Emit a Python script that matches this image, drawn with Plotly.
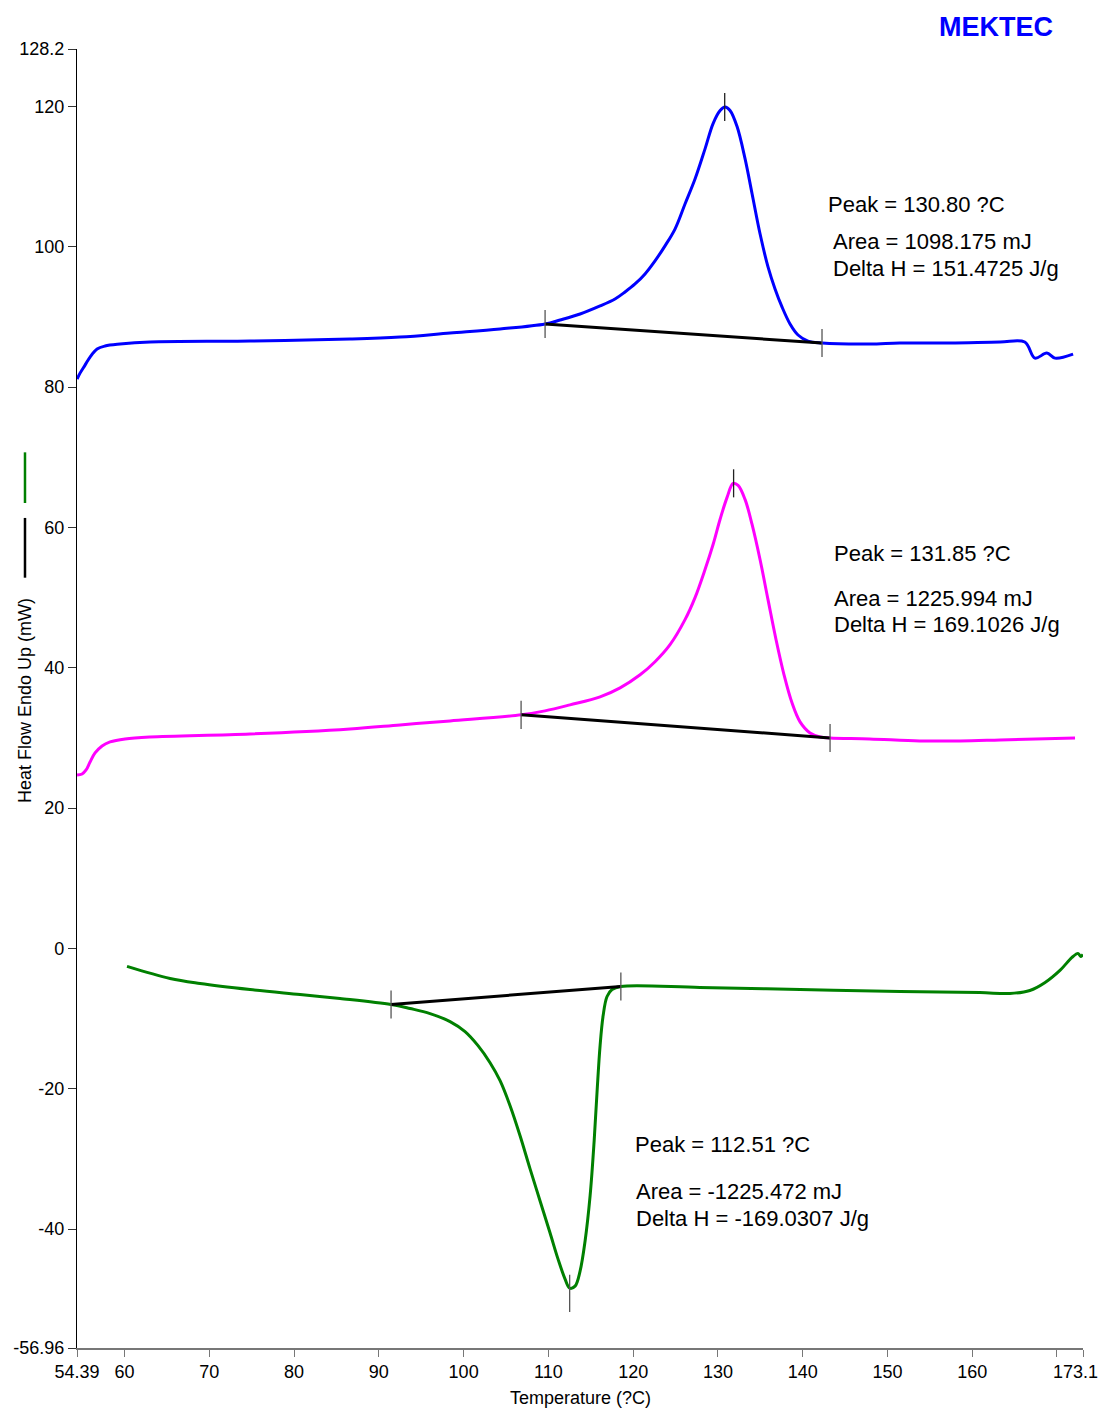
import plotly.graph_objects as go

# ---------------- data ----------------
blue_x = [54.40, 54.75, 55.34, 55.93, 56.76, 57.70, 59.47, 63.01, 74.80, 86.60, 92.50, 98.40,
          104.30, 109.61, 111.38, 113.74, 116.10, 117.86, 119.04, 120.22, 121.40, 122.58,
          123.76, 124.95, 126.13, 127.31, 128.49, 129.43, 130.26, 130.84, 131.43, 132.26,
          133.20, 134.03, 134.97, 135.91, 136.74, 137.56, 138.51, 139.45, 140.63, 142.28,
          147.9, 151.44, 157.4, 163.3, 166.2, 167.4, 168.8, 169.76, 171.9]
blue_y = [81.14, 82.0, 83.14, 84.29, 85.43, 85.86, 86.14, 86.43, 86.57, 86.86, 87.14, 87.71,
          88.29, 89.0, 89.57, 90.43, 91.57, 92.57, 93.57, 94.71, 96.14, 98.0,
          100.14, 102.57, 106.14, 109.71, 114.0, 117.57, 119.43, 119.93, 119.43, 117.14,
          112.57, 107.57, 101.86, 97.14, 94.0, 91.43, 89.0, 87.43, 86.57, 86.29,
          86.14, 86.29, 86.29, 86.43, 86.43, 84.14, 84.86, 84.14, 84.71]

magenta_x = [54.40, 54.99, 55.46, 55.93, 56.52, 57.35, 58.29, 60.06, 63.01, 74.80, 86.60,
             92.50, 98.40, 106.78, 109.60, 112.55, 116.10, 118.46, 120.82, 122.58, 124.35,
             126.12, 127.30, 128.48, 129.43, 130.25, 131.08, 131.79, 132.38, 133.20, 134.03,
             134.97, 135.91, 136.86, 137.80, 138.74, 139.69, 140.87, 142.05, 143.23, 147.9,
             153.8, 158.56, 163.28, 172.13]
magenta_y = [24.71, 24.86, 25.43, 26.57, 27.86, 28.86, 29.43, 29.86, 30.14, 30.57, 31.29,
             31.86, 32.43, 33.29, 33.86, 34.71, 35.86, 37.14, 39.0, 40.86, 43.29,
             46.86, 50.0, 54.0, 57.57, 61.14, 64.29, 66.29, 66.0, 64.0, 60.43,
             55.43, 49.71, 44.0, 39.0, 35.0, 32.29, 30.71, 30.14, 30.0, 29.86,
             29.57, 29.57, 29.71, 30.0]

green_x = [60.29, 65.37, 68.91, 74.80, 80.70, 85.42, 91.44, 93.68, 96.04, 98.40, 100.17,
           101.70, 103.12, 104.30, 105.48, 106.66, 107.84, 109.02, 110.20, 111.14, 111.97,
           112.51, 113.15, 113.74, 114.33, 114.92, 115.40, 115.75, 116.10, 116.46, 116.92,
           117.51, 118.55, 127.87, 139.7, 151.5, 160.9, 164.45, 166.8, 168.6, 170.35,
           171.77, 172.48, 172.8, 173.07]
green_y = [-2.57, -4.29, -5.0, -5.86, -6.57, -7.14, -8.0, -8.57, -9.29, -10.43, -11.86,
           -13.86, -16.29, -18.86, -22.43, -26.71, -31.43, -36.0, -40.57, -44.29, -47.14,
           -48.43, -48.14, -46.0, -41.71, -35.29, -27.43, -20.29, -13.86, -9.57, -6.86,
           -5.86, -5.43, -5.57, -5.86, -6.14, -6.29, -6.43, -6.0, -4.86, -3.14,
           -1.29, -0.71, -1.14, -0.86]

# baselines (start, end) and peaks
blue_base_x = [109.61, 142.28]
blue_base_y = [89.0, 86.29]
blue_peak = (130.80, 119.93)

magenta_base_x = [106.78, 143.23]
magenta_base_y = [33.29, 30.0]
magenta_peak = (131.85, 66.29)

green_base_x = [91.44, 118.55]
green_base_y = [-8.0, -5.43]
green_peak = (112.51, -48.43)

blue_text = ["Peak = 130.80 ?C", "Area = 1098.175 mJ", "Delta H = 151.4725 J/g"]
magenta_text = ["Peak = 131.85 ?C", "Area = 1225.994 mJ", "Delta H = 169.1026 J/g"]
green_text = ["Peak = 112.51 ?C", "Area = -1225.472 mJ", "Delta H = -169.0307 J/g"]

x_tickvals = [54.39, 60, 70, 80, 90, 100, 110, 120, 130, 140, 150, 160, 170, 173.07]
x_ticktext = ["54.39", "60", "70", "80", "90", "100", "110", "120", "130", "140",
              "150", "160", "", ""]
x_end_label = "173.1"
y_tickvals = [-56.96, -40, -20, 0, 20, 40, 60, 80, 100, 120, 128.2]
y_ticktext = ["-56.96", "-40", "-20", "0", "20", "40", "60", "80", "100", "120", "128.2"]

X_RANGE = [54.39, 173.07]
Y_RANGE = [-56.96, 128.2]

# ---------------- figure ----------------
FONT = "Liberation Sans, Arial, sans-serif"
fig = go.Figure()

for xs, ys, col in [(blue_x, blue_y, "#0000FF"),
                    (magenta_x, magenta_y, "#FF00FF"),
                    (green_x, green_y, "#008000")]:
    fig.add_trace(go.Scatter(x=xs, y=ys, mode="lines",
                             line=dict(color=col, width=3, shape="spline", smoothing=1.0),
                             showlegend=False, hoverinfo="skip"))

# baselines
for bx, by in [(blue_base_x, blue_base_y), (magenta_base_x, magenta_base_y),
               (green_base_x, green_base_y)]:
    fig.add_trace(go.Scatter(x=bx, y=by, mode="lines", line=dict(color="black", width=3),
                             showlegend=False, hoverinfo="skip"))


def tick_segments(points, up, down):
    tx, ty = [], []
    for px, py in points:
        tx += [px, px, None]
        ty += [py + up, py - down, None]
    return tx, ty


end_points = list(zip(blue_base_x, blue_base_y)) + list(zip(magenta_base_x, magenta_base_y)) \
    + list(zip(green_base_x, green_base_y))
tx, ty = tick_segments(end_points, 2.0, 2.0)
fig.add_trace(go.Scatter(x=tx, y=ty, mode="lines", line=dict(color="#555555", width=1.3),
                         showlegend=False, hoverinfo="skip"))
tx, ty = tick_segments([blue_peak, magenta_peak], 2.0, 2.0)
fig.add_trace(go.Scatter(x=tx, y=ty, mode="lines", line=dict(color="#222222", width=1.3),
                         showlegend=False, hoverinfo="skip"))
tx, ty = tick_segments([green_peak], 1.9, 3.4)
fig.add_trace(go.Scatter(x=tx, y=ty, mode="lines", line=dict(color="#555555", width=1.3),
                         showlegend=False, hoverinfo="skip"))

annotations = []
for texts, x0, ys in [(blue_text, [142.75, 143.34, 143.34], [106.0, 100.7, 96.86]),
                      (magenta_text, [143.46, 143.46, 143.46], [56.29, 49.86, 46.14]),
                      (green_text, [119.99, 120.1, 120.1], [-28.0, -34.71, -38.43])]:
    for t, xx, yy in zip(texts, x0, ys):
        annotations.append(dict(x=xx, y=yy, xref="x", yref="y", text=t, showarrow=False,
                                xanchor="left", yanchor="middle",
                                font=dict(family=FONT, size=22, color="black")))

annotations.append(dict(x=0.9135, y=1.017, xref="paper", yref="paper", text="<b>MEKTEC</b>",
                        showarrow=False, xanchor="center", yanchor="middle",
                        font=dict(family=FONT, size=27, color="#0000FF")))
annotations.append(dict(x=-0.0517, y=0.4988, xref="paper", yref="paper",
                        text="Heat Flow Endo Up (mW)", textangle=-90, showarrow=False,
                        xanchor="center", yanchor="middle",
                        font=dict(family=FONT, size=18, color="black")))
annotations.append(dict(x=0.5, y=-0.0385, xref="paper", yref="paper",
                        text="Temperature (?C)", showarrow=False,
                        xanchor="center", yanchor="middle",
                        font=dict(family=FONT, size=18, color="black")))
# end-of-axis label, kept inside the page
annotations.append(dict(x=1.0155, y=-0.0185, xref="paper", yref="paper",
                        text=x_end_label, showarrow=False, xanchor="right", yanchor="middle",
                        borderpad=0, font=dict(family=FONT, size=18, color="black")))

shapes = [
    dict(type="line", xref="paper", yref="paper", x0=-0.0517, x1=-0.0517, y0=0.593, y1=0.639,
         line=dict(color="black", width=2.5)),
    dict(type="line", xref="paper", yref="paper", x0=-0.0517, x1=-0.0517, y0=0.6505, y1=0.6895,
         line=dict(color="#008000", width=2.5)),
]

fig.update_layout(
    width=1100, height=1410,
    margin=dict(l=77, r=17, t=49, b=62, autoexpand=False),
    paper_bgcolor="white", plot_bgcolor="white",
    font=dict(family=FONT, size=18, color="black"),
    annotations=annotations, shapes=shapes, showlegend=False,
    xaxis=dict(range=X_RANGE, tickvals=x_tickvals, ticktext=x_ticktext,
               showgrid=False, zeroline=False, showline=True, linecolor="#777777",
               linewidth=1.5, ticks="outside", ticklen=7, tickcolor="#777777",
               tickfont=dict(size=18), ticklabeloverflow="allow", automargin=False,
               fixedrange=True),
    yaxis=dict(range=Y_RANGE, tickvals=y_tickvals, ticktext=y_ticktext,
               showgrid=False, zeroline=False, showline=True, linecolor="black",
               linewidth=1.2, ticks="outside", ticklen=8, tickcolor="#333333",
               tickfont=dict(size=18), ticklabeloverflow="allow", automargin=False,
               fixedrange=True),
)

fig.write_html("out.html", config={"displayModeBar": False},
               post_script="document.body.style.margin='0';")
